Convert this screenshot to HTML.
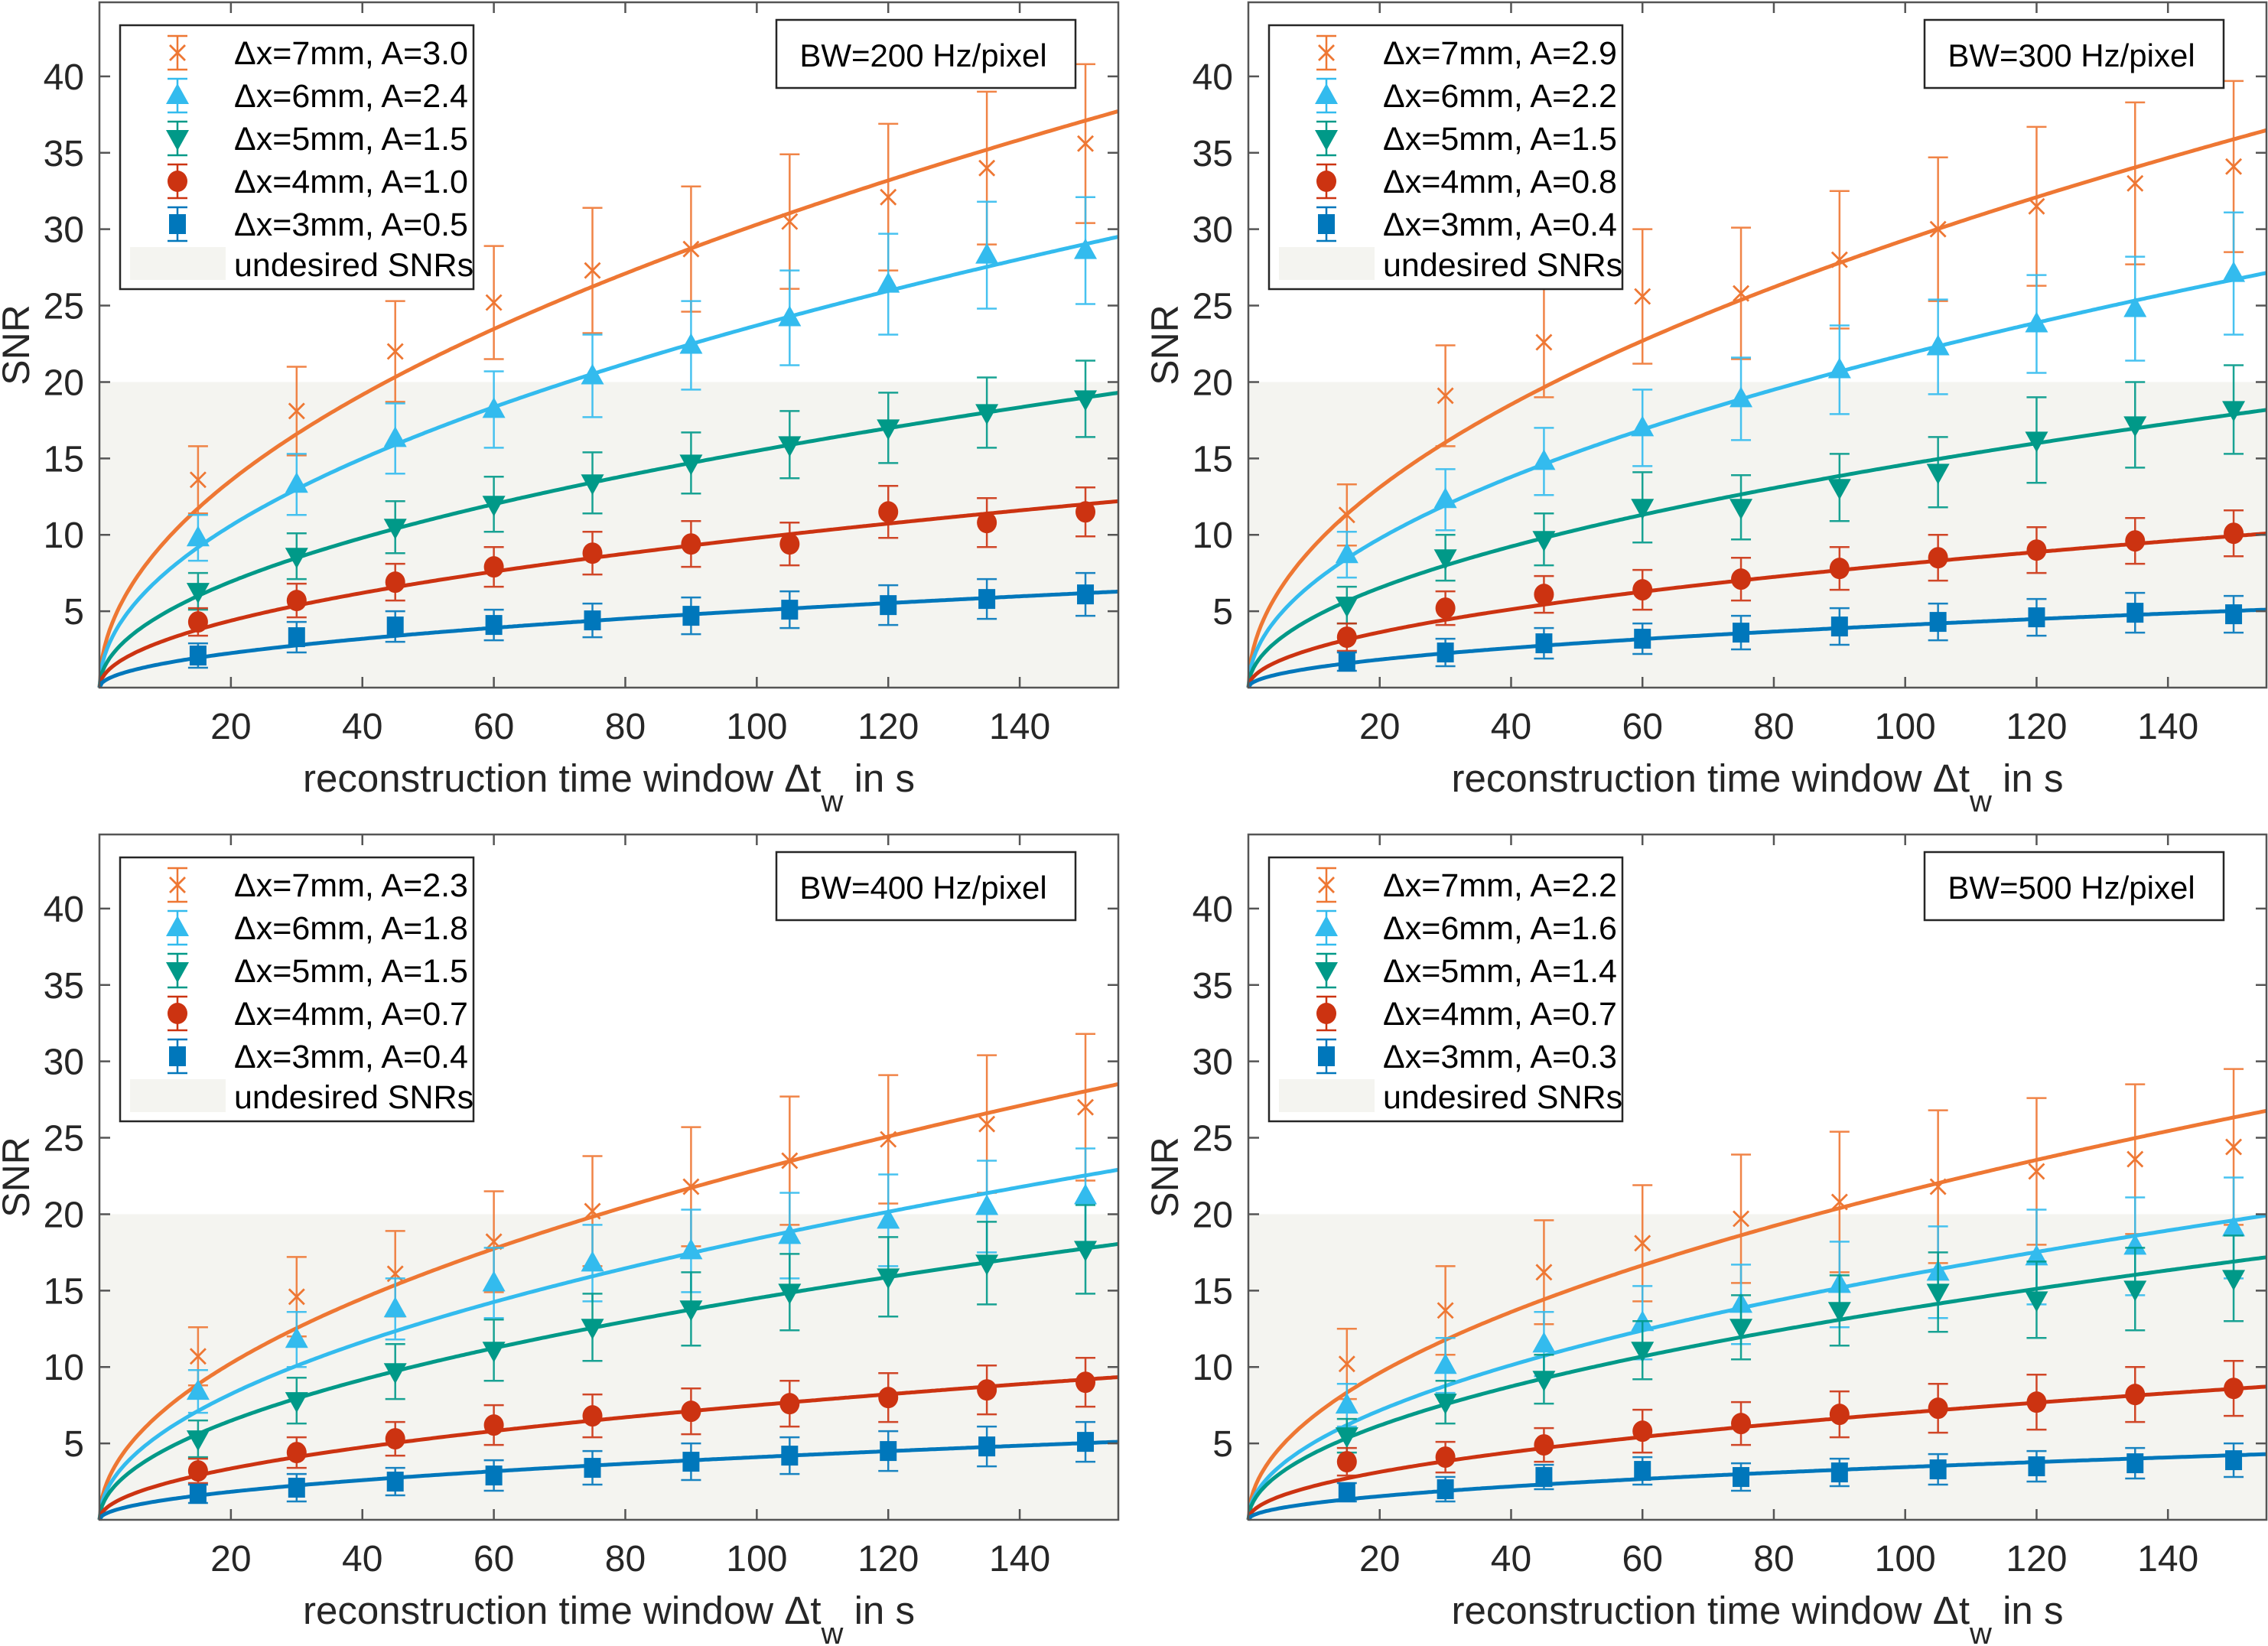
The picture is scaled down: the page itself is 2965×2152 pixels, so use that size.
<!DOCTYPE html>
<html><head><meta charset="utf-8"><style>
html,body{margin:0;padding:0;background:#fff;}
svg{display:block;font-family:"Liberation Sans",Arial,sans-serif;}
</style></head><body>
<svg id="fig" width="2965" height="2152" viewBox="0 0 2965 2152" xmlns="http://www.w3.org/2000/svg"></svg>
<script>
// ---- data ----
const times = [15,30,45,60,75,90,105,120,135,150];
const xTicks = [20,40,60,80,100,120,140];
const yTicks = [5,10,15,20,25,30,35,40];
const bwLabels = ["BW=200 Hz/pixel","BW=300 Hz/pixel","BW=400 Hz/pixel","BW=500 Hz/pixel"];
const seriesNames = ["7mm","6mm","5mm","4mm","3mm"];
const legendA = [["3.0","2.4","1.5","1.0","0.5"],["2.9","2.2","1.5","0.8","0.4"],["2.3","1.8","1.5","0.7","0.4"],["2.2","1.6","1.4","0.7","0.3"]];
const fitCoef = [[3.03,2.37,1.55,0.98,0.505],[2.93,2.18,1.46,0.81,0.41],[2.29,1.84,1.45,0.75,0.41],[2.15,1.6,1.38,0.7,0.345]];
const undesiredMax = 20;
// panel 0 (BW200)
const p0_7 = [13.6,18.1,22.0,25.2,27.3,28.7,30.5,32.1,34.0,35.6];
const p0_7e = [2.2,2.9,3.3,3.7,4.1,4.1,4.4,4.8,5.0,5.2];
const p0_6 = [9.8,13.3,16.3,18.2,20.4,22.4,24.2,26.4,28.3,28.6];
const p0_6e = [1.5,2.0,2.3,2.5,2.7,2.9,3.1,3.3,3.5,3.5];
const p0_5 = [6.3,8.6,10.5,12.0,13.4,14.7,15.9,17.0,18.0,18.9];
const p0_5e = [1.2,1.5,1.7,1.8,2.0,2.0,2.2,2.3,2.3,2.5];
const p0_4 = [4.3,5.7,6.9,7.9,8.8,9.4,9.4,11.5,10.8,11.5];
const p0_4e = [0.9,1.1,1.2,1.3,1.4,1.5,1.4,1.7,1.6,1.6];
const p0_3 = [2.1,3.3,4.0,4.1,4.4,4.7,5.1,5.4,5.8,6.1];
const p0_3e = [0.8,1.0,1.0,1.0,1.1,1.2,1.2,1.3,1.3,1.4];
// panel 1 (BW300)
const p1_7 = [11.3,19.1,22.6,25.6,25.8,28.0,30.0,31.5,33.0,34.1];
const p1_7e = [2.0,3.3,3.6,4.4,4.3,4.5,4.7,5.2,5.3,5.6];
const p1_6 = [8.7,12.3,14.8,17.0,18.9,20.8,22.3,23.8,24.8,27.1];
const p1_6e = [1.5,2.0,2.2,2.5,2.7,2.9,3.1,3.2,3.4,4.0];
const p1_5 = [5.4,8.5,9.7,11.8,11.8,13.1,14.1,16.2,17.2,18.2];
const p1_5e = [1.2,1.5,1.7,2.3,2.1,2.2,2.3,2.8,2.8,2.9];
const p1_4 = [3.3,5.2,6.1,6.4,7.1,7.8,8.5,9.0,9.6,10.1];
const p1_4e = [0.9,1.1,1.2,1.3,1.4,1.4,1.5,1.5,1.5,1.5];
const p1_3 = [1.7,2.3,2.9,3.2,3.6,4.0,4.3,4.6,4.9,4.8];
const p1_3e = [0.6,0.9,1.0,1.0,1.1,1.2,1.2,1.2,1.3,1.2];
// panel 2 (BW400)
const p2_7 = [10.7,14.6,16.1,18.2,20.2,21.8,23.5,24.9,25.9,27.0];
const p2_7e = [1.9,2.6,2.8,3.3,3.6,3.9,4.2,4.2,4.5,4.8];
const p2_6 = [8.4,11.8,13.8,15.5,16.8,17.6,18.6,19.6,20.5,21.2];
const p2_6e = [1.4,1.8,2.0,2.3,2.5,2.7,2.8,3.0,3.0,3.1];
const p2_5 = [5.3,7.8,9.7,11.1,12.6,13.8,14.9,15.9,16.8,17.7];
const p2_5e = [1.2,1.5,1.8,2.0,2.2,2.4,2.5,2.6,2.7,2.9];
const p2_4 = [3.2,4.4,5.3,6.2,6.8,7.1,7.6,8.0,8.5,9.0];
const p2_4e = [0.8,1.0,1.1,1.3,1.4,1.5,1.5,1.6,1.6,1.6];
const p2_3 = [1.7,2.1,2.5,2.9,3.4,3.8,4.2,4.5,4.8,5.1];
const p2_3e = [0.6,0.9,0.9,1.0,1.1,1.2,1.2,1.3,1.3,1.3];
// panel 3 (BW500)
const p3_7 = [10.2,13.7,16.2,18.1,19.7,20.8,21.8,22.8,23.6,24.4];
const p3_7e = [2.3,2.9,3.4,3.8,4.2,4.6,5.0,4.8,4.9,5.1];
const p3_6 = [7.5,10.1,11.5,12.9,14.1,15.4,16.2,17.2,17.9,19.1];
const p3_6e = [1.4,1.8,2.1,2.4,2.6,2.8,3.0,3.1,3.2,3.3];
const p3_5 = [5.5,7.7,9.2,11.1,12.6,13.7,14.9,14.4,15.1,15.8];
const p3_5e = [1.1,1.4,1.6,1.9,2.1,2.3,2.6,2.5,2.7,2.8];
const p3_4 = [3.8,4.1,4.9,5.8,6.3,6.9,7.3,7.7,8.2,8.6];
const p3_4e = [0.9,1.0,1.1,1.4,1.4,1.5,1.6,1.8,1.8,1.8];
const p3_3 = [1.8,2.0,2.8,3.2,2.8,3.1,3.3,3.5,3.7,3.9];
const p3_3e = [0.6,0.8,0.8,0.9,0.9,0.9,1.0,1.0,1.0,1.1];

const panelVals = [[p0_7,p0_6,p0_5,p0_4,p0_3],[p1_7,p1_6,p1_5,p1_4,p1_3],[p2_7,p2_6,p2_5,p2_4,p2_3],[p3_7,p3_6,p3_5,p3_4,p3_3]];
const panelErrs = [[p0_7e,p0_6e,p0_5e,p0_4e,p0_3e],[p1_7e,p1_6e,p1_5e,p1_4e,p1_3e],[p2_7e,p2_6e,p2_5e,p2_4e,p2_3e],[p3_7e,p3_6e,p3_5e,p3_4e,p3_3e]];

const colors = ["#EE7733","#33BBEE","#009988","#CC3311","#0077BB"];
const markers = ["x","tri","tdown","circle","square"];
const NS="http://www.w3.org/2000/svg";
const svg=document.getElementById('fig');
function mk(tag,attrs,parent){const e=document.createElementNS(NS,tag);for(const k in attrs)e.setAttribute(k,attrs[k]);(parent||svg).appendChild(e);return e;}

const boxes=[{l:130,t:3,r:1462,b:899},{l:1632,t:3,r:2963,b:899},{l:130,t:1091,r:1462,b:1987},{l:1632,t:1091,r:2963,b:1987}];
const XMAX=155, YMAX=44.85;

function drawMarker(g,type,cx,cy,col){
  let m;
  if(type==="x"){m=mk('path',{d:`M${cx-10},${cy-10}L${cx+10},${cy+10}M${cx-10},${cy+10}L${cx+10},${cy-10}`,stroke:col,'stroke-width':2.8,fill:'none'},g);}
  else if(type==="tri"){m=mk('polygon',{points:`${cx},${cy-16} ${cx+15},${cy+11} ${cx-15},${cy+11}`,fill:col},g);}
  else if(type==="tdown"){m=mk('polygon',{points:`${cx},${cy+16} ${cx+15},${cy-11} ${cx-15},${cy-11}`,fill:col},g);}
  else if(type==="circle"){m=mk('ellipse',{cx:cx,cy:cy,rx:13,ry:14,fill:col},g);}
  else {m=mk('rect',{x:cx-11,y:cy-13,width:22,height:26,fill:col},g);}
  return m;
}

boxes.forEach((B,pi)=>{
  const W=B.r-B.l,H=B.b-B.t;
  const xs=v=>B.l+v/XMAX*W;
  const ys=v=>B.b-v/YMAX*H;
  const g=mk('g',{});
  
  
  const sh=mk('rect',{x:B.l,y:ys(undesiredMax),width:W,height:B.b-ys(undesiredMax),fill:'#F4F4F0'},g);
  
  
  for(let s=0;s<5;s++){
    const sg=mk('g',{},g);
    
    
    const col=colors[s];
    const vals=panelVals[pi][s], errs=panelErrs[pi][s];
    let d='';
    for(let i=0;i<=400;i++){const t=XMAX*i/400;const y=fitCoef[pi][s]*Math.sqrt(t);d+=(i?'L':'M')+xs(t).toFixed(1)+','+ys(y).toFixed(1);}
    const fl=mk('path',{d:d,stroke:col,'stroke-width':5,fill:'none'},sg);
    
    
    times.forEach((t,i)=>{
      const cx=xs(t),y1=ys(vals[i]+errs[i]),y2=ys(vals[i]-errs[i]);
      const eb=mk('path',{d:`M${cx},${y1}L${cx},${y2}M${cx-13},${y1}L${cx+13},${y1}M${cx-13},${y2}L${cx+13},${y2}`,stroke:col,'stroke-width':2.5,fill:'none',opacity:0.9},sg);
      
      
      const m=drawMarker(sg,markers[s],cx,ys(vals[i]),col);
      
      
    });
  }
  const ax=mk('rect',{x:B.l,y:B.t,width:W,height:H,fill:'none',stroke:'#555','stroke-width':2.5},g);
  
  
  xTicks.forEach(v=>{
    const x=xs(v);
    const tk=mk('path',{d:`M${x},${B.b}L${x},${B.b-14}M${x},${B.t}L${x},${B.t+14}`,stroke:'#555','stroke-width':2.5},g);
    
    
    const tl=mk('text',{x:x,y:B.b+67,'font-size':48,'text-anchor':'middle',fill:'#262626'},g);
    tl.textContent=v;
    
    
  });
  yTicks.forEach(v=>{
    const y=ys(v);
    const tk=mk('path',{d:`M${B.l},${y}L${B.l+14},${y}M${B.r},${y}L${B.r-14},${y}`,stroke:'#555','stroke-width':2.5},g);
    
    
    const tl=mk('text',{x:B.l-20,y:y+17,'font-size':48,'text-anchor':'end',fill:'#262626'},g);
    tl.textContent=v;
    
    
  });
  const yl=mk('text',{x:0,y:0,'font-size':50,'text-anchor':'middle',fill:'#262626',transform:`translate(${B.l-92},${(B.t+B.b)/2}) rotate(-90)`},g);
  yl.textContent='SNR';
  
  
  const xl=mk('text',{x:(B.l+B.r)/2,y:B.b+136,'font-size':51,'text-anchor':'middle',fill:'#262626'},g);
  
  
  const t1=mk('tspan',{},xl);t1.textContent='reconstruction time window Δt';
  const t2=mk('tspan',{dy:26,'font-size':40},xl);t2.textContent='w';
  const t3=mk('tspan',{dy:-26},xl);t3.textContent=' in s';
  const bw=mk('g',{},g);
  
  
  mk('rect',{x:B.r-447,y:B.t+23,width:391,height:89,fill:'#fff',stroke:'#262626','stroke-width':2.5},bw);
  const bt=mk('text',{x:B.r-255,y:B.t+84,'font-size':42,'text-anchor':'middle',fill:'#000'},bw);
  bt.textContent=bwLabels[pi];
  const lg=mk('g',{},g);
  
  
  const L=B.l+27,T=B.t+30;
  mk('rect',{x:L,y:T,width:462,height:345,fill:'#fff',stroke:'#262626','stroke-width':2.5},lg);
  for(let s=0;s<5;s++){
    const e=mk('g',{},lg);
    
    
    const cy=T+36+s*56, cx=L+75;
    mk('path',{d:`M${cx},${cy-22}L${cx},${cy+22}M${cx-13},${cy-22}L${cx+13},${cy-22}M${cx-13},${cy+22}L${cx+13},${cy+22}`,stroke:colors[s],'stroke-width':2.5,fill:'none'},e);
    drawMarker(e,markers[s],cx,cy,colors[s]);
    const tx=mk('text',{x:L+149,y:cy+15,'font-size':43,fill:'#000'},e);
    tx.textContent='Δx='+seriesNames[s]+', A='+legendA[pi][s];
  }
  const ue=mk('g',{},lg);
  
  
  mk('rect',{x:L+13,y:T+290,width:125,height:43,fill:'#F4F4F0'},ue);
  const ut=mk('text',{x:L+149,y:T+328,'font-size':43,fill:'#000'},ue);
  ut.textContent='undesired SNRs';
});
</script>
</body></html>
